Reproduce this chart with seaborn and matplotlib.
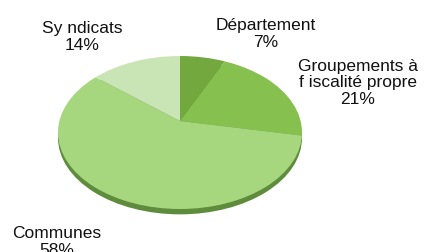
import matplotlib
matplotlib.use("Agg")
import matplotlib.pyplot as plt
import seaborn as sns
from matplotlib.patches import Circle

# Data
categories = ["Département", "Groupements à\nf iscalité propre", "Communes", "Sy ndicats"]
values = [7, 21, 58, 14]
colors = ["#72a83e", "#86c04e", "#a6d77e", "#c9e5b5"]
side_color = "#5f8c3c"

sns.set_theme(style="white")
plt.rcParams['font.family'] = ['Liberation Sans', 'DejaVu Sans']

W, H = 425, 253
fig = plt.figure(figsize=(W / 100, H / 100), dpi=100)
fig.patch.set_facecolor("white")

# axes box in pixels (face ellipse + side thickness)
left_px, right_px, top_px, bottom_px = 58, 302, 57, 216
ax = fig.add_axes([left_px / W, (H - bottom_px) / H,
                   (right_px - left_px) / W, (bottom_px - top_px) / H])

# 3D side (thickness) drawn behind the face
side = Circle((0, -0.07), 1.0, facecolor=side_color, edgecolor="none", zorder=1)
ax.add_patch(side)

# face: wedges radiating from a perspective apex, clipped to the face ellipse
wedges, _ = ax.pie(values, colors=colors, startangle=90, counterclock=False,
                   center=(0, 0.15), radius=2.2,
                   wedgeprops=dict(linewidth=0, edgecolor="none"))
face = Circle((0, 0), 1.0, facecolor="none", edgecolor="none")
ax.add_patch(face)
for w in wedges:
    w.set_zorder(2)
    w.set_clip_on(True)
    w.set_clip_path(face)

ax.set_aspect("auto")
ax.set_xlim(-1, 1)
ax.set_ylim(1 - (bottom_px - top_px) / 76.5, 1)
ax.axis("off")

# labels
label_pos = {
    "Département": (266, 34),
    "Groupements à\nf iscalité propre": (358, 83),
    "Communes": (57, 242),
    "Sy ndicats": (82, 37),
}
for cat, val in zip(categories, values):
    x, y = label_pos[cat]
    fig.text(x / W, 1 - y / H, f"{cat}\n{val}%", ha="center", va="center",
             multialignment="center", fontsize=12.5, color="#111111",
             linespacing=1.15)

fig.savefig("out.png", dpi=100, facecolor="white")
